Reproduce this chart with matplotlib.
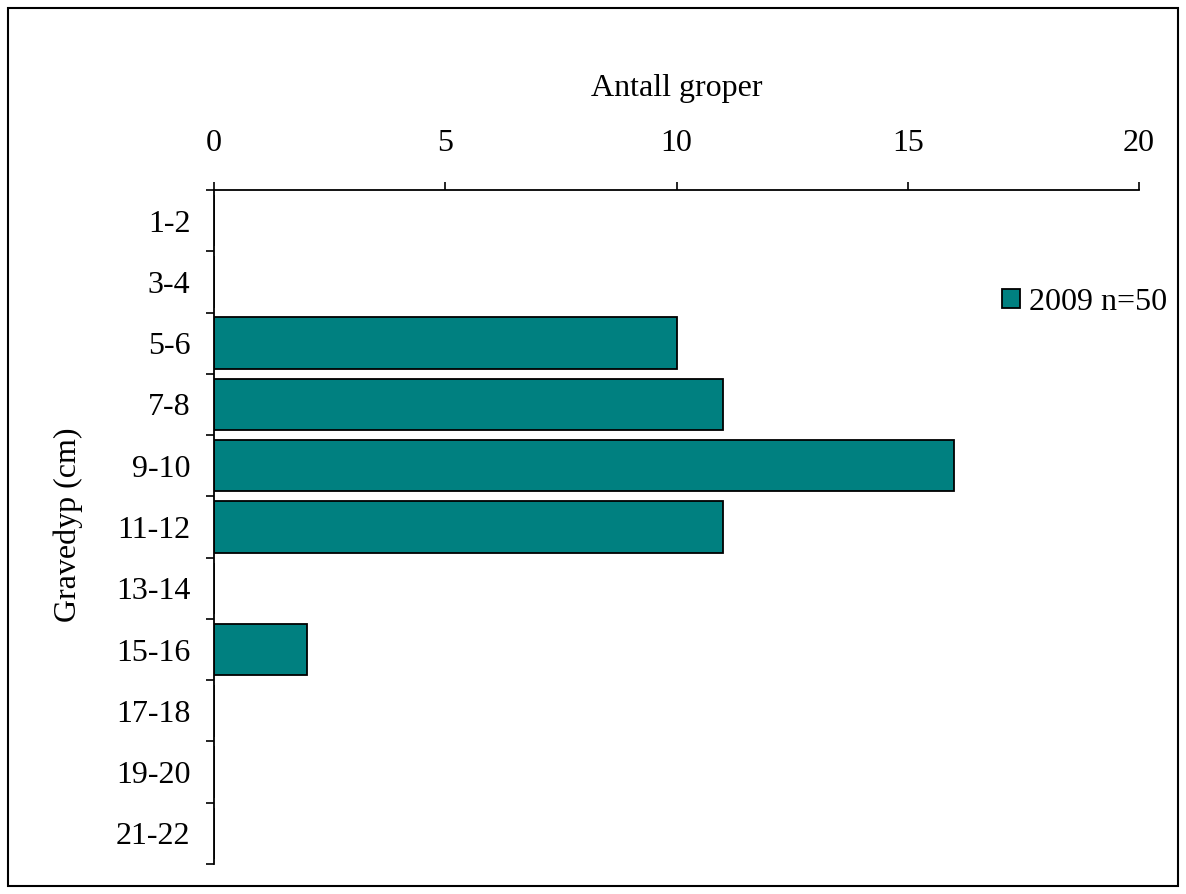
import matplotlib.pyplot as plt
from matplotlib.patches import Rectangle

plt.rcParams['font.family'] = ['Liberation Serif', 'DejaVu Serif']

depths = ['1-2', '3-4', '5-6', '7-8', '9-10', '11-12', '13-14',
          '15-16', '17-18', '19-20', '21-22']
counts_2009 = [0, 0, 10, 11, 16, 11, 0, 2, 0, 0, 0]
x_ticks = [0, 5, 10, 15, 20]

W, H = 1186, 894
fig = plt.figure(figsize=(W / 100, H / 100), dpi=100)
ax = fig.add_axes([214 / W, 1 - 864 / H, (1139 - 214) / W, (864 - 190) / H])

pos = list(range(len(depths)))
ax.barh(pos, counts_2009, height=0.84, color='#008080', edgecolor='black',
        linewidth=1.3, label='2009 n=50')

ax.set_ylim(len(depths) - 0.5, -0.5)
ax.set_xlim(0, 20)
ax.set_yticks(pos)
ax.set_yticklabels(depths)
ax.set_yticks([p + 0.5 for p in range(-1, len(depths))], minor=True)
ax.set_xticks(x_ticks)

ax.xaxis.tick_top()
ax.xaxis.set_label_position('top')
ax.tick_params(axis='x', direction='out', length=6, width=1.2, pad=17, labelsize=23)
ax.tick_params(axis='y', which='major', length=0, pad=17, labelsize=23)
ax.tick_params(axis='y', which='minor', direction='out', length=6, width=1.2)

for s in ['right', 'bottom']:
    ax.spines[s].set_visible(False)
for s in ['left', 'top']:
    ax.spines[s].set_linewidth(1.3)

ax.set_xlabel('Antall groper', fontsize=23, labelpad=24)
fig.text(68 / W, 1 - 525 / H, 'Gravedyp (cm)', rotation=90, fontsize=23,
         ha='center', va='center')

ax.legend(loc='center left', bbox_to_anchor=(1002 / W, 1 - 302 / H),
          bbox_transform=fig.transFigure, frameon=False, fontsize=23,
          handlelength=0.55, handleheight=0.55, handletextpad=0.3,
          borderpad=0, borderaxespad=0)

fig.patches.append(Rectangle((8 / W, 8 / H), (1178 - 8) / W, (886 - 8) / H,
                             transform=fig.transFigure, fill=False,
                             edgecolor='black', linewidth=1.5))

fig.savefig('out.png', dpi=100)
